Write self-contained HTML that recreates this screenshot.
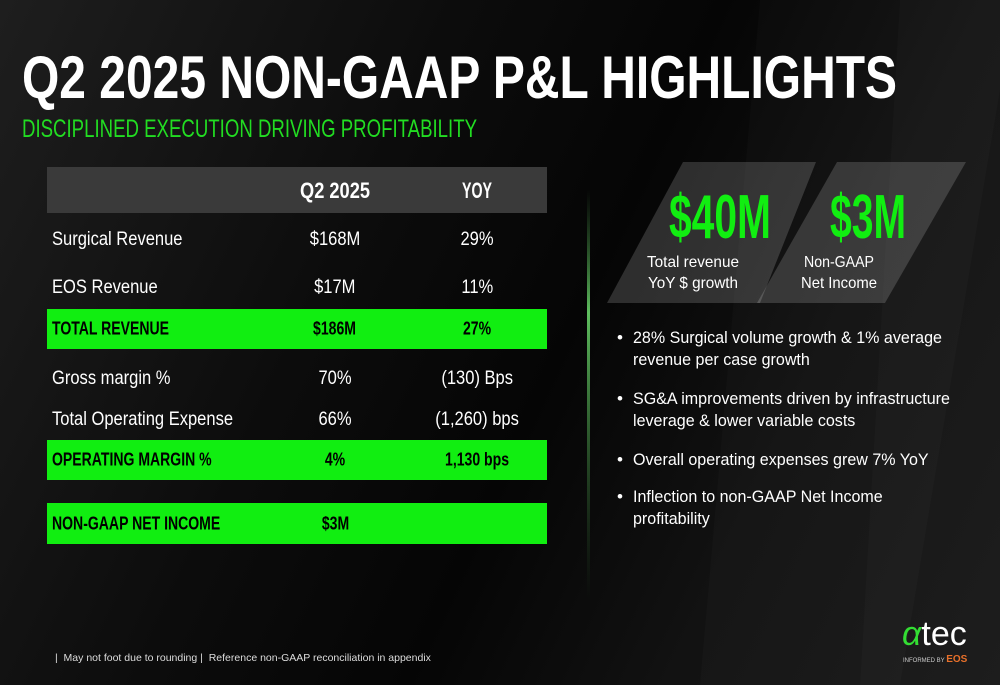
<!DOCTYPE html>
<html><head><meta charset="utf-8"><style>
body{margin:0;width:1000px;height:685px;overflow:hidden;background:#0b0b0b;font-family:"Liberation Sans",sans-serif;}
#slide{position:relative;width:1000px;height:685px;overflow:hidden;
background:linear-gradient(115deg,#1e1e1e 0%,#0c0c0c 35%,#050505 55%,#121212 75%,#191919 100%);}
.abs{position:absolute;}
.row{position:absolute;left:47px;width:500px;height:40px;color:#fff;font-size:19px;}
.row>span{position:absolute;top:50%;transform:translateY(-50%);white-space:nowrap;}
.row b{display:inline-block;font-weight:inherit;transform:scaleX(0.87);}
.c1 b{transform-origin:left center}
.c1{left:5px}.c2{left:288px;width:0;display:flex;justify-content:center}.c3{left:430px;width:0;display:flex;justify-content:center}
.green{background:#11ee11;color:#000;font-weight:bold;font-size:18px;}
.green b{transform:scaleX(0.78);}
.bul{position:absolute;left:617px;color:#fff;font-size:17px;line-height:22px;width:380px;}
.bul::before{content:"•";position:absolute;left:0;}
.bul div{margin-left:16px;transform:scaleX(0.945);transform-origin:left;}
</style></head><body>
<div id="slide">
<svg class="abs" style="left:0;top:0" width="1000" height="685">
<polygon points="760,0 1000,0 1000,90 900,685 700,685" fill="#ffffff" opacity="0.02"/>
<polygon points="900,0 1000,0 1000,685 860,685" fill="#ffffff" opacity="0.02"/>
<polygon points="683,162 816,162 760,303 607,303" fill="#ffffff" opacity="0.16"/>
<polygon points="837,162 966,162 885,303 757,303" fill="#ffffff" opacity="0.16"/>
<defs><linearGradient id="vl" x1="0" y1="0" x2="0" y2="1"><stop offset="0" stop-color="#3a7a3a" stop-opacity="0"/><stop offset="0.3" stop-color="#5fbf5f"/><stop offset="1" stop-color="#2a5a2a" stop-opacity="0"/></linearGradient></defs>
<rect x="587" y="190" width="3" height="410" fill="url(#vl)"/>
<text x="22" y="98" textLength="875" lengthAdjust="spacingAndGlyphs" font-family="Liberation Sans" font-weight="bold" font-size="60" fill="#fff">Q2 2025 NON-GAAP P&amp;L HIGHLIGHTS</text>
<text x="22" y="137" textLength="455" lengthAdjust="spacingAndGlyphs" font-family="Liberation Sans" font-size="25" fill="#22dd22">DISCIPLINED EXECUTION DRIVING PROFITABILITY</text>
<text x="720" y="238" text-anchor="middle" textLength="102" lengthAdjust="spacingAndGlyphs" font-family="Liberation Sans" font-weight="bold" font-size="62" fill="#11ee11">$40M</text>
<text x="868" y="238" text-anchor="middle" textLength="76" lengthAdjust="spacingAndGlyphs" font-family="Liberation Sans" font-weight="bold" font-size="62" fill="#11ee11">$3M</text>
<text x="693" y="267" text-anchor="middle" textLength="92" lengthAdjust="spacingAndGlyphs" font-family="Liberation Sans" font-size="16" fill="#fff">Total revenue</text>
<text x="693" y="288" text-anchor="middle" textLength="90" lengthAdjust="spacingAndGlyphs" font-family="Liberation Sans" font-size="16" fill="#fff">YoY $ growth</text>
<text x="839" y="267" text-anchor="middle" textLength="70" lengthAdjust="spacingAndGlyphs" font-family="Liberation Sans" font-size="16" fill="#fff">Non-GAAP</text>
<text x="839" y="288" text-anchor="middle" textLength="76" lengthAdjust="spacingAndGlyphs" font-family="Liberation Sans" font-size="16" fill="#fff">Net Income</text>
<rect x="47" y="167" width="500" height="46" fill="#3a3a3a"/>
<text x="335" y="198" text-anchor="middle" textLength="70" lengthAdjust="spacingAndGlyphs" font-family="Liberation Sans" font-weight="bold" font-size="22" fill="#fff">Q2 2025</text>
<text x="477" y="198" text-anchor="middle" textLength="30" lengthAdjust="spacingAndGlyphs" font-family="Liberation Sans" font-weight="bold" font-size="22" fill="#fff">YOY</text>
<text x="902" y="645" font-family="Liberation Sans" font-size="34" font-style="italic" fill="#33dd33">α<tspan fill="#fff" font-style="normal">tec</tspan></text>
<text x="903" y="662" font-family="Liberation Sans" font-size="6" fill="#ccc">INFORMED BY <tspan fill="#e8702a" font-size="10" font-weight="bold">EOS</tspan></text>
</svg>
<div class="row" style="top:220px"><span class="c1"><b>Surgical Revenue</b></span><span class="c2"><b>$168M</b></span><span class="c3"><b>29%</b></span></div>
<div class="row" style="top:268px"><span class="c1"><b>EOS Revenue</b></span><span class="c2"><b>$17M</b></span><span class="c3"><b>11%</b></span></div>
<div class="row green" style="top:309px"><span class="c1"><b>TOTAL REVENUE</b></span><span class="c2"><b>$186M</b></span><span class="c3"><b>27%</b></span></div>
<div class="row" style="top:359px"><span class="c1"><b>Gross margin %</b></span><span class="c2"><b>70%</b></span><span class="c3"><b>(130) Bps</b></span></div>
<div class="row" style="top:400px"><span class="c1"><b>Total Operating Expense</b></span><span class="c2"><b>66%</b></span><span class="c3"><b>(1,260) bps</b></span></div>
<div class="row green" style="top:440px"><span class="c1"><b>OPERATING MARGIN %</b></span><span class="c2"><b>4%</b></span><span class="c3"><b>1,130 bps</b></span></div>
<div class="row green" style="top:503px;height:41px"><span class="c1"><b>NON-GAAP NET INCOME</b></span><span class="c2"><b>$3M</b></span></div>
<div class="bul" style="top:327px"><div>28% Surgical volume growth &amp; 1% average<br>revenue per case growth</div></div>
<div class="bul" style="top:388px"><div>SG&amp;A improvements driven by infrastructure<br>leverage &amp; lower variable costs</div></div>
<div class="bul" style="top:449px"><div>Overall operating expenses grew 7% YoY</div></div>
<div class="bul" style="top:486px"><div>Inflection to non-GAAP Net Income<br>profitability</div></div>
<div class="abs" style="left:55px;top:652px;color:#ddd;font-size:10.5px">| &nbsp;May not foot due to rounding | &nbsp;Reference non-GAAP reconciliation in appendix</div>
</div>
</body></html>
